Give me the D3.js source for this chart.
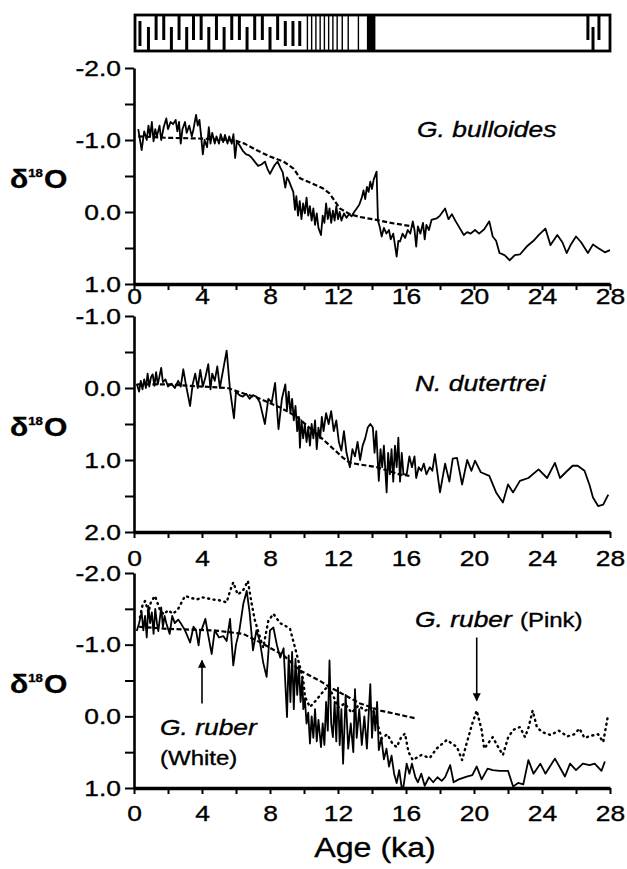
<!DOCTYPE html>
<html>
<head>
<meta charset="utf-8">
<script src="https://cdn.jsdelivr.net/npm/d3@7"></script>
<style>
  body { margin: 0; background: #fff; }
  svg { display: block; }
  text { font-family: "Liberation Sans", Arial, Helvetica, sans-serif; fill: #000; stroke: #000; stroke-width: 0.35px; }
</style>
</head>
<body>
<svg id="chart"></svg>
<script>
// ---- data: [age (ka), d18O] ----
const bulloides = [
  [0.25,-1.15],[0.45,-0.86],[0.6,-1.12],[0.75,-1.0],[0.85,-1.2],[0.95,-1.05],[1.05,-1.25],[1.15,-0.98],
  [1.25,-1.15],[1.35,-1.05],[1.5,-1.2],[1.6,-1.0],[1.75,-1.18],[1.9,-1.3],[2.0,-1.15],[2.15,-1.25],
  [2.3,-1.22],[2.45,-1.28],[2.55,-1.12],[2.65,-1.25],[2.75,-0.95],[2.85,-1.15],[3.0,-1.25],[3.1,-1.1],
  [3.25,-1.2],[3.4,-1.05],[3.5,-1.15],[3.65,-1.35],[3.75,-1.2],[3.85,-1.28],[3.95,-1.05],[4.05,-0.8],
  [4.15,-1.0],[4.3,-0.9],[4.4,-1.18],[4.5,-0.95],[4.6,-1.1],[4.75,-0.95],[4.85,-1.05],[5.0,-0.95],
  [5.1,-1.08],[5.25,-0.97],[5.35,-1.07],[5.5,-0.95],[5.6,-1.05],[5.75,-0.95],[5.85,-1.08],[5.95,-0.75],
  [6.05,-0.98],[6.2,-0.93],[6.4,-0.85],[6.6,-0.8],[6.75,-0.79],[6.9,-0.76],[7.1,-0.7],[7.3,-0.64],
  [7.5,-0.66],[7.7,-0.7],[7.85,-0.6],[8.0,-0.53],[8.15,-0.6],[8.3,-0.66],[8.45,-0.7],[8.6,-0.62],
  [8.75,-0.55],[8.9,-0.34],[9.0,-0.48],[9.1,-0.44],[9.25,-0.35],[9.37,-0.28],[9.47,-0.03],[9.55,-0.22],
  [9.65,0.05],[9.75,-0.15],[9.85,0.1],[9.95,-0.12],[10.05,0.02],[10.15,-0.2],[10.25,0.05],[10.35,-0.08],
  [10.45,0.12],[10.55,-0.05],[10.65,0.18],[10.75,0.02],[10.85,0.22],[11.0,0.32],[11.1,0.05],[11.2,0.15],
  [11.3,-0.12],[11.4,0.1],[11.5,-0.05],[11.6,0.15],[11.7,-0.02],[11.8,0.12],[11.9,-0.08],[12.0,0.1],
  [12.1,0.0],[12.2,0.12],[12.35,0.02],[12.5,0.08],[12.65,0.03],[12.8,0.06],[12.95,0.0],[13.1,-0.05],
  [13.25,-0.1],[13.4,-0.2],[13.5,-0.3],[13.6,-0.18],[13.7,-0.35],[13.8,-0.28],[13.9,-0.42],[14.0,-0.32],
  [14.1,-0.45],[14.27,-0.56],[14.35,0.12],[14.45,0.2],[14.57,0.34],[14.7,0.22],[14.85,0.3],[15.0,0.25],
  [15.1,0.38],[15.25,0.3],[15.45,0.62],[15.55,0.4],[15.65,0.41],[15.8,0.3],[15.95,0.36],[16.1,0.25],
  [16.25,0.3],[16.4,0.13],[16.5,0.25],[16.6,0.48],[16.7,0.2],[16.85,0.3],[17.0,0.15],[17.1,0.38],
  [17.2,0.18],[17.35,0.25],[17.5,0.11],[17.8,0.09],[18.0,0.05],[18.3,-0.05],[18.5,0.1],[18.7,0.03],
  [18.9,0.12],[19.1,0.2],[19.4,0.32],[19.6,0.28],[19.8,0.3],[20.06,0.25],[20.3,0.3],[20.6,0.24],
  [20.9,0.13],[21.1,0.34],[21.3,0.4],[21.5,0.57],[21.8,0.6],[22.1,0.67],[22.4,0.6],[22.7,0.59],
  [23.1,0.48],[23.5,0.4],[23.8,0.32],[24.2,0.23],[24.5,0.46],[24.9,0.32],[25.2,0.42],[25.45,0.57],
  [25.7,0.45],[26.0,0.34],[26.3,0.42],[26.7,0.57],[27.0,0.45],[27.3,0.5],[27.7,0.56],[28.0,0.53]
];
const bulloidesTrend = [
  [0.25,-1.05],[2,-1.03],[4,-1.02],[5.5,-1.0],[6.0,-0.99],[6.5,-0.95],[7.2,-0.86],[8.0,-0.77],
  [8.8,-0.7],[9.4,-0.6],[9.76,-0.47],[10.35,-0.41],[11.1,-0.33],[11.5,-0.26],[12.1,-0.05],[12.7,0.03],
  [13.3,0.07],[14.27,0.11],[15.3,0.16],[16.4,0.2]
];

const dutertrei = [
  [0.16,-0.06],[0.3,0.05],[0.4,-0.1],[0.5,0.02],[0.6,-0.12],[0.7,0.0],[0.8,-0.2],[0.9,-0.02],
  [1.0,-0.15],[1.1,-0.19],[1.2,-0.03],[1.3,-0.22],[1.4,-0.05],[1.6,-0.28],[1.7,-0.08],[1.85,-0.12],
  [2.0,-0.02],[2.2,-0.06],[2.4,0.0],[2.6,-0.1],[2.75,-0.02],[2.9,-0.26],[3.05,-0.05],[3.3,0.25],
  [3.45,-0.05],[3.6,-0.2],[3.75,0.0],[3.9,-0.25],[4.05,-0.02],[4.2,-0.15],[4.37,-0.33],[4.5,0.02],
  [4.6,-0.2],[4.75,-0.1],[4.9,-0.3],[5.05,0.0],[5.45,-0.52],[5.65,0.03],[5.88,0.42],[6.0,0.05],
  [6.2,0.1],[6.4,0.12],[6.6,0.08],[6.8,0.15],[7.0,0.1],[7.2,0.12],[7.4,0.2],[7.7,0.5],
  [7.9,0.15],[8.1,0.2],[8.3,-0.07],[8.5,0.57],[8.7,0.15],[8.9,-0.05],[9.0,0.3],[9.1,0.05],
  [9.2,0.35],[9.3,0.15],[9.4,0.45],[9.5,0.25],[9.6,0.6],[9.7,0.4],[9.76,0.83],[9.85,0.45],
  [9.95,0.7],[10.05,0.5],[10.15,0.75],[10.25,0.55],[10.35,0.8],[10.45,0.5],[10.55,0.7],[10.65,0.45],
  [10.75,0.85],[10.85,0.55],[10.95,0.7],[11.05,0.4],[11.15,0.6],[11.3,0.35],[11.45,0.5],[11.6,0.32],
  [11.75,0.6],[11.9,0.45],[12.05,0.75],[12.2,0.87],[12.35,0.6],[12.5,0.9],[12.7,1.1],[12.85,0.85],
  [13.0,0.95],[13.15,0.75],[13.3,1.0],[13.45,0.8],[13.6,0.7],[13.75,0.55],[13.9,0.5],[14.05,0.55],
  [14.15,0.9],[14.25,0.6],[14.4,1.29],[14.5,0.85],[14.6,1.1],[14.7,0.8],[14.86,1.45],[14.95,0.9],
  [15.05,1.2],[15.15,0.85],[15.25,1.3],[15.35,0.8],[15.45,1.1],[15.55,0.69],[15.65,1.3],[15.75,0.9],
  [15.85,1.2],[16.04,1.2],[16.2,0.95],[16.35,1.1],[16.5,0.95],[16.6,1.25],[16.75,1.1],[16.9,1.15],
  [17.05,1.05],[17.2,1.2],[17.4,1.1],[17.55,1.15],[17.7,0.92],[18.0,1.45],[18.3,1.05],[18.55,1.3],
  [18.75,0.98],[19.0,0.97],[19.3,1.34],[19.6,1.0],[19.85,1.15],[20.06,1.01],[20.4,1.17],[20.9,1.22],
  [21.3,1.45],[21.7,1.59],[22.0,1.34],[22.3,1.45],[22.7,1.29],[23.2,1.25],[23.8,1.13],[24.3,1.25],
  [24.76,1.04],[25.06,1.25],[25.4,1.17],[25.8,1.08],[26.1,1.08],[26.5,1.15],[26.8,1.35],[27.0,1.52],
  [27.3,1.64],[27.6,1.62],[27.9,1.48]
];
const dutertreiTrend = [
  [0.2,-0.05],[2,-0.05],[4,-0.02],[5.5,0.0],[6.5,0.08],[7.2,0.13],[8.6,0.27],[9.57,0.4],
  [11.1,0.71],[12.3,0.97],[12.7,1.04],[14.3,1.1],[15.6,1.2],[16.2,1.22]
];

const ruberWhite = [
  [0.16,-1.19],[0.3,-1.3],[0.45,-1.45],[0.55,-1.2],[0.65,-1.4],[0.75,-1.1],[0.84,-1.54],[0.95,-1.3],
  [1.05,-1.45],[1.15,-1.15],[1.25,-1.5],[1.35,-1.3],[1.43,-1.19],[1.6,-1.52],[1.7,-1.25],[1.8,-1.4],
  [1.9,-1.3],[2.1,-1.15],[2.25,-1.4],[2.4,-1.3],[2.6,-1.35],[2.8,-1.28],[3.0,-1.2],[3.3,-1.03],
  [3.5,-1.25],[3.65,-1.2],[3.8,-0.99],[3.9,-1.2],[4.0,-1.22],[4.2,-1.36],[4.35,-1.15],[4.57,-0.87],
  [4.75,-1.2],[5.0,-1.1],[5.25,-1.12],[5.45,-1.05],[5.65,-1.36],[5.84,-0.71],[6.0,-1.0],[6.2,-1.2],
  [6.43,-1.57],[6.63,-1.75],[6.8,-1.45],[7.0,-0.92],[7.2,-1.2],[7.4,-1.05],[7.6,-0.75],[7.8,-0.55],
  [8.0,-1.2],[8.2,-1.24],[8.4,-1.0],[8.6,-0.82],[8.8,-0.95],[9.0,0.01],[9.1,-0.85],[9.2,-0.2],
  [9.3,-0.9],[9.4,-0.1],[9.5,-0.8],[9.6,-0.3],[9.7,-0.7],[9.8,-0.2],[9.9,-0.55],[9.96,-0.1],
  [10.05,-0.25],[10.15,0.1],[10.25,-0.05],[10.35,0.38],[10.45,0.0],[10.55,0.3],[10.65,-0.1],[10.75,0.35],
  [10.85,0.05],[11.0,0.43],[11.1,0.1],[11.2,0.4],[11.3,-0.2],[11.4,0.2],[11.5,-0.78],[11.6,0.1],
  [11.7,0.29],[11.8,-0.2],[11.9,0.35],[12.0,-0.4],[12.1,0.4],[12.2,-0.1],[12.3,0.66],[12.45,-0.3],
  [12.6,0.45],[12.75,0.1],[12.9,0.5],[13.0,-0.38],[13.1,0.3],[13.25,-0.1],[13.4,0.4],[13.55,0.0],
  [13.7,0.45],[13.9,-0.45],[14.0,0.3],[14.1,-0.1],[14.2,0.2],[14.3,-0.2],[14.4,0.47],[14.55,0.3],
  [14.7,0.6],[14.85,0.45],[15.0,0.7],[15.15,0.55],[15.3,0.8],[15.45,0.93],[15.6,0.75],[15.75,1.0],
  [15.84,1.0],[16.04,0.66],[16.2,0.8],[16.35,0.66],[16.55,0.85],[16.7,0.92],[16.9,0.8],[17.1,0.97],
  [17.35,0.85],[17.6,0.92],[17.85,0.85],[18.1,0.9],[18.3,0.85],[18.6,0.68],[18.8,0.92],[19.1,0.88],
  [19.57,0.84],[19.9,0.82],[20.16,0.7],[20.45,0.88],[20.8,0.73],[21.1,0.75],[21.5,0.76],[22.0,0.76],
  [22.3,0.98],[22.6,0.93],[22.9,0.95],[23.2,0.61],[23.5,0.8],[23.9,0.66],[24.2,0.8],[24.76,0.59],
  [25.35,0.84],[25.65,0.66],[26.0,0.75],[26.4,0.66],[26.8,0.68],[27.1,0.66],[27.5,0.76],[27.7,0.63]
];
const ruberPink = [
  [0.35,-1.38],[0.5,-1.55],[0.65,-1.61],[0.85,-1.45],[1.0,-1.6],[1.24,-1.68],[1.5,-1.5],[1.75,-1.42],
  [2.0,-1.48],[2.3,-1.43],[2.6,-1.5],[3.0,-1.68],[3.4,-1.65],[3.7,-1.63],[4.0,-1.66],[4.27,-1.65],
  [4.6,-1.63],[5.0,-1.62],[5.45,-1.59],[5.65,-1.75],[5.84,-1.87],[6.1,-1.7],[6.4,-1.75],[6.7,-1.89],
  [6.9,-1.6],[7.1,-1.35],[7.3,-1.19],[7.6,-0.96],[7.9,-1.33],[8.2,-1.43],[8.6,-1.3],[9.0,-1.25],
  [9.18,-1.22],[9.47,-0.96],[9.76,-0.69],[9.96,-0.5],[10.06,-0.27],[10.35,-0.13],[10.7,-0.22],[11.0,-0.31],
  [11.4,-0.42],[11.7,-0.3],[12.0,-0.12],[12.4,-0.18],[12.8,-0.05],[13.2,-0.15],[13.6,-0.08],[14.0,-0.12],
  [14.27,0.06],[14.57,0.31],[14.9,0.25],[15.2,0.38],[15.45,0.43],[15.7,0.3],[15.94,0.24],[16.15,0.5],
  [16.4,0.61],[16.9,0.54],[17.4,0.58],[17.8,0.45],[18.4,0.33],[19.0,0.43],[19.3,0.61],[19.6,0.35],
  [19.9,0.1],[20.16,-0.08],[20.45,0.19],[20.6,0.45],[21.1,0.29],[21.4,0.42],[21.7,0.54],[22.0,0.3],
  [22.3,0.19],[22.7,0.15],[23.0,0.29],[23.2,0.16],[23.45,-0.08],[23.7,0.15],[24.0,0.22],[24.5,0.26],
  [25.0,0.2],[25.5,0.28],[25.9,0.25],[26.2,0.17],[26.5,0.3],[26.9,0.27],[27.3,0.25],[27.6,0.36],
  [27.85,0.03]
];
const ruberTrend = [
  [0.3,-1.25],[2,-1.22],[4.5,-1.2],[5.06,-1.19],[6.43,-1.15],[7.6,-1.01],[8.8,-0.85],[9.76,-0.64],
  [10.9,-0.5],[11.5,-0.41],[13.3,-0.18],[14.5,-0.08],[16.6,0.03]
];

// lithology strip along the age axis: stroke age + kind (u = hangs from top, l = rises from bottom, f = middle)
const lithoStrokes = [
  [0.35,'f'],[0.85,'l'],[1.3,'u'],[1.75,'u'],[2.2,'l'],[2.65,'u'],[3.1,'l'],[3.5,'u'],[3.95,'u'],
  [4.4,'l'],[4.85,'u'],[5.3,'l'],[5.75,'u'],[6.2,'u'],[6.65,'l'],[7.1,'u'],[7.55,'u'],[8.0,'l'],
  [8.45,'u'],[8.9,'f'],[9.35,'f'],[9.75,'f'],[26.7,'u'],[27.0,'l'],[27.35,'u']
];
const lithoLaminae = [10.2, 10.45, 10.7, 10.95, 11.2, 11.45, 11.7, 11.95, 12.25, 12.6, 13.2];
const lithoBlock = [13.7, 14.2];

const xTicks = d3.range(0, 29, 2);
const yTicks3 = [-2, -1.5, -1, -0.5, 0, 0.5, 1];
const yTicks2 = [-1, -0.5, 0, 0.5, 1, 1.5, 2];

// ---- layout ----
const width = 627, height = 869;
const SX = 1.2; // the figure's lettering is horizontally stretched
const svg = d3.select('#chart').attr('width', width).attr('height', height);
const x = d3.scaleLinear().domain([0, 28]).range([134, 610]);

const panels = [
  { top: 68, bottom: 284, domain: [-2, 1], ticks: yTicks3, labelGap: 4,
    series: [{ data: bulloides, kind: 'solid' }, { data: bulloidesTrend, kind: 'dash' }] },
  { top: 316, bottom: 532, domain: [-1, 2], ticks: yTicks2, labelGap: 18,
    series: [{ data: dutertrei, kind: 'solid' }, { data: dutertreiTrend, kind: 'dash' }] },
  { top: 573, bottom: 788, domain: [-2, 1], ticks: yTicks3, labelGap: 17,
    series: [{ data: ruberPink, kind: 'dot' }, { data: ruberWhite, kind: 'solid' }, { data: ruberTrend, kind: 'dash' }] }
];

const styles = {
  solid: { w: 1.8, dash: null },
  dash: { w: 2.2, dash: '5,2.5' },
  dot: { w: 2.4, dash: '1,4.5' }
};

// stretched text helper
function label(g, px, py, txt, size, opts = {}) {
  return g.append('text')
    .attr('transform', `translate(${px},${py}) scale(${opts.sx || SX},1)`)
    .attr('text-anchor', opts.anchor || 'start')
    .style('font-size', size + 'px')
    .style('font-style', opts.italic ? 'italic' : 'normal')
    .style('font-weight', opts.bold ? 'bold' : 'normal')
    .text(txt);
}

panels.forEach((p) => {
  const y = d3.scaleLinear().domain(p.domain).range([p.top, p.bottom]);
  p.y = y;
  const g = svg.append('g');

  // series
  const line = d3.line().x(d => x(d[0])).y(d => y(d[1]));
  p.series.forEach((s) => {
    const st = styles[s.kind];
    g.append('path')
      .datum(s.data)
      .attr('d', line)
      .attr('fill', 'none')
      .attr('stroke', '#000')
      .attr('stroke-width', st.w)
      .attr('stroke-linejoin', 'round')
      .attr('stroke-linecap', s.kind === 'dot' ? 'round' : 'butt')
      .attr('stroke-dasharray', st.dash);
  });

  // y axis
  const yAxis = d3.axisLeft(y)
    .tickValues(p.ticks)
    .tickSize(9)
    .tickSizeOuter(0)
    .tickFormat(d => Number.isInteger(d) ? (d === 0 ? '0.0' : d.toFixed(1)) : '');
  const ya = g.append('g').attr('transform', `translate(${x(0)},0)`).call(yAxis);
  ya.select('.domain').attr('stroke-width', 2.6);
  ya.selectAll('.tick line').attr('stroke-width', 2);
  ya.selectAll('.tick text')
    .attr('x', -13 / SX)
    .attr('transform', `scale(${SX},1)`)
    .style('font-size', '22px')
    .style('font-family', '"Liberation Sans", Arial, sans-serif');

  // x axis
  const xAxis = d3.axisBottom(x)
    .tickValues(xTicks)
    .tickSize(6)
    .tickSizeOuter(0)
    .tickFormat(d => d % 4 === 0 ? d : '');
  const xa = g.append('g').attr('transform', `translate(0,${p.bottom})`).call(xAxis);
  xa.select('.domain').attr('stroke-width', 3.4);
  xa.selectAll('.tick line').attr('stroke-width', 2);
  xa.selectAll('.tick text')
    .attr('y', p.labelGap)
    .attr('transform', `scale(${SX},1)`)
    .style('font-size', '22px')
    .style('font-family', '"Liberation Sans", Arial, sans-serif');

  // d18O label
  const mid = (p.top + p.bottom) / 2 + 12;
  const t = svg.append('text')
    .attr('transform', `translate(10,${mid}) scale(${SX},1)`)
    .style('font-size', '25px')
    .style('font-weight', 'bold');
  t.append('tspan').text('δ');
  t.append('tspan').attr('dy', -11).style('font-size', '11px').text('18');
  t.append('tspan').attr('dy', 11).attr('dx', 1).text('O');
});

// species labels
const [p1, p2, p3] = panels;
label(svg, x(16.65), p1.y(-1.04), 'G. bulloides', 22, { italic: true });
label(svg, x(16.53), p2.y(0.04), 'N. dutertrei', 22, { italic: true });
label(svg, x(16.53), p3.y(-1.24), 'G. ruber', 22, { italic: true });
label(svg, x(22.7), p3.y(-1.24), '(Pink)', 20);
label(svg, x(1.53), p3.y(0.26), 'G. ruber', 22, { italic: true });
label(svg, x(1.53), p3.y(0.68), '(White)', 20);

// arrows
const defs = svg.append('defs');
defs.append('marker')
  .attr('id', 'head')
  .attr('viewBox', '0 0 10 10')
  .attr('refX', 9).attr('refY', 5)
  .attr('markerWidth', 5).attr('markerHeight', 6)
  .attr('orient', 'auto')
  .append('path').attr('d', 'M0,0 L10,5 L0,10 Z').attr('fill', '#000');

function arrow(age, v0, v1, y) {
  svg.append('line')
    .attr('x1', x(age)).attr('x2', x(age))
    .attr('y1', y(v0)).attr('y2', y(v1))
    .attr('stroke', '#000').attr('stroke-width', 1.6)
    .attr('marker-end', 'url(#head)');
}
arrow(4, -0.18, -0.78, p3.y);
arrow(20.16, -1.1, -0.22, p3.y);

// Age axis title
label(svg, 375, 857, 'Age (ka)', 28, { anchor: 'middle', sx: 1.15 });

// ---- lithology strip ----
const stripTop = 15, stripBot = 51;
const strip = svg.append('g');
const kinds = { u: [stripTop, 40], l: [27, stripBot], f: [21, 46] };
strip.selectAll('line.stroke')
  .data(lithoStrokes)
  .enter()
  .append('line')
  .attr('class', 'stroke')
  .attr('x1', d => x(d[0])).attr('x2', d => x(d[0]))
  .attr('y1', d => kinds[d[1]][0]).attr('y2', d => kinds[d[1]][1])
  .attr('stroke', '#000').attr('stroke-width', 3);
strip.selectAll('line.lam')
  .data(lithoLaminae)
  .enter()
  .append('line')
  .attr('class', 'lam')
  .attr('x1', d => x(d)).attr('x2', d => x(d))
  .attr('y1', stripTop).attr('y2', stripBot)
  .attr('stroke', '#000').attr('stroke-width', 1.4);
strip.append('rect')
  .attr('x', x(lithoBlock[0])).attr('width', x(lithoBlock[1]) - x(lithoBlock[0]))
  .attr('y', stripTop).attr('height', stripBot - stripTop)
  .attr('fill', '#000');
strip.append('rect')
  .attr('x', x(0) + 1).attr('y', stripTop)
  .attr('width', x(28) - x(0) - 1).attr('height', stripBot - stripTop)
  .attr('fill', 'none').attr('stroke', '#000').attr('stroke-width', 2.8);
</script>
</body>
</html>
